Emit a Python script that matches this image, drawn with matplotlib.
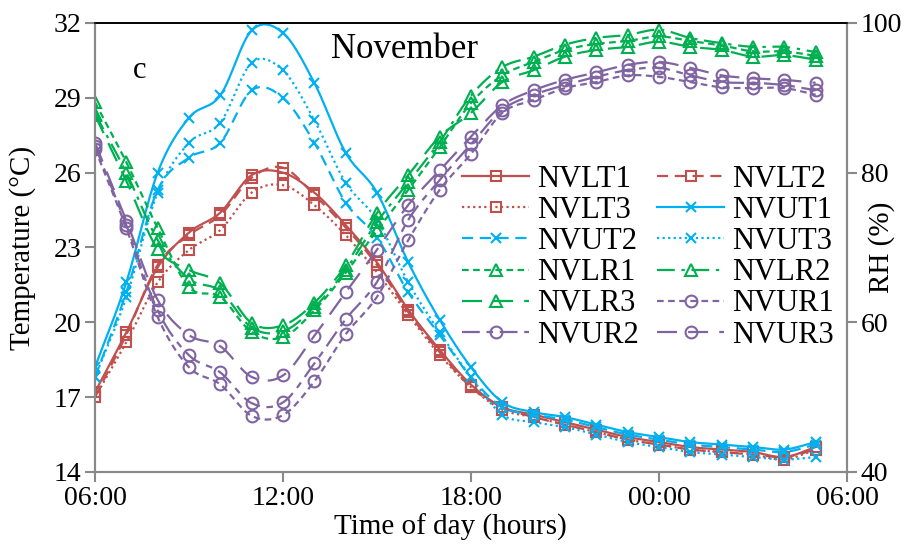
import numpy as np
import matplotlib
matplotlib.use("Agg")
import matplotlib.pyplot as plt

hours = list(range(6, 30))

# temperature (left axis, °C)
nvlt1 = [17.2, 19.6, 22.2, 23.6, 24.4, 25.9, 26.0, 25.2, 23.9, 22.4, 20.5, 18.9, 17.5, 16.6, 16.3, 16.0, 15.7, 15.4, 15.2, 15.0, 14.9, 14.8, 14.6, 15.0]
nvlt2 = [17.0, 19.5, 22.3, 23.5, 24.3, 25.8, 26.2, 25.1, 23.8, 22.3, 20.4, 18.8, 17.4, 16.6, 16.2, 15.9, 15.6, 15.3, 15.1, 14.9, 14.8, 14.7, 14.6, 14.9]
nvlt3 = [17.0, 19.2, 21.6, 22.9, 23.7, 25.2, 25.5, 24.7, 23.5, 22.0, 20.3, 18.7, 17.4, 16.5, 16.2, 15.9, 15.6, 15.3, 15.1, 14.9, 14.8, 14.7, 14.5, 14.9]
nvut1 = [18.2, 21.6, 26.0, 28.2, 29.1, 31.7, 31.6, 29.6, 26.8, 25.2, 22.4, 20.1, 18.2, 16.8, 16.4, 16.2, 15.9, 15.6, 15.4, 15.2, 15.1, 15.0, 14.9, 15.2]
nvut2 = [17.8, 21.2, 25.3, 26.6, 27.2, 29.3, 29.0, 27.2, 24.8, 23.4, 21.2, 19.5, 17.8, 16.6, 16.3, 16.1, 15.8, 15.5, 15.3, 15.1, 15.0, 14.9, 14.8, 15.1]
nvut3 = [17.8, 21.0, 25.2, 27.2, 28.0, 30.4, 30.1, 28.1, 25.6, 24.1, 21.6, 19.6, 17.8, 16.3, 16.0, 15.8, 15.5, 15.2, 15.0, 14.8, 14.7, 14.6, 14.5, 14.6]

# relative humidity (right axis, %)
nvlr1 = [89.4, 81.4, 72.6, 64.7, 63.4, 58.7, 58.0, 61.6, 66.6, 72.3, 77.7, 83.4, 89.3, 93.0, 94.8, 96.4, 97.2, 97.6, 98.2, 97.6, 97.0, 96.2, 96.2, 95.6]
nvlr2 = [87.9, 80.0, 71.0, 65.8, 64.2, 59.3, 58.8, 62.0, 67.0, 73.4, 78.7, 84.1, 90.3, 94.1, 95.5, 97.1, 98.0, 98.4, 99.1, 98.0, 97.3, 96.8, 96.8, 96.1]
nvlr3 = [87.7, 78.9, 69.8, 67.0, 65.2, 59.9, 59.6, 62.6, 67.6, 74.6, 79.7, 84.8, 88.0, 92.1, 93.7, 95.5, 96.4, 96.8, 97.5, 96.8, 96.4, 95.5, 95.7, 95.1]
nvur1 = [83.2, 72.6, 60.7, 54.0, 51.7, 47.5, 47.6, 52.1, 58.4, 63.4, 71.0, 77.7, 82.5, 88.0, 89.7, 91.3, 92.1, 93.0, 92.8, 92.1, 91.4, 91.3, 91.3, 90.4]
nvur2 = [83.6, 73.0, 61.6, 55.6, 53.3, 49.2, 49.3, 54.5, 60.4, 65.4, 73.7, 79.0, 83.8, 88.4, 90.4, 91.7, 92.8, 93.7, 94.0, 93.0, 92.1, 92.0, 91.7, 91.0]
nvur3 = [84.0, 73.6, 63.0, 58.3, 56.8, 52.7, 52.9, 58.2, 64.0, 69.7, 75.7, 80.3, 84.8, 89.0, 91.0, 92.4, 93.4, 94.4, 94.8, 94.0, 93.0, 92.6, 92.4, 92.0]

red = "#C0504D"
blue = "#00B0F0"
green = "#00B050"
purple = "#8064A2"

plt.rcParams["font.family"] = ["Liberation Serif", "DejaVu Serif"]


def smooth(x, y, n=16):
    # catmull-rom through the hourly points, like excel's smoothed line
    x = np.asarray(x, float)
    y = np.asarray(y, float)
    px = np.concatenate([[2 * x[0] - x[1]], x, [2 * x[-1] - x[-2]]])
    py = np.concatenate([[2 * y[0] - y[1]], y, [2 * y[-1] - y[-2]]])
    xs, ys = [], []
    t = np.linspace(0, 1, n, endpoint=False)
    for i in range(1, len(px) - 2):
        for arr, out in ((px, xs), (py, ys)):
            p0, p1, p2, p3 = arr[i - 1], arr[i], arr[i + 1], arr[i + 2]
            out.extend(0.5 * (2 * p1 + (-p0 + p2) * t + (2 * p0 - 5 * p1 + 4 * p2 - p3) * t ** 2
                              + (-p0 + 3 * p1 - 3 * p2 + p3) * t ** 3))
    xs.append(x[-1])
    ys.append(y[-1])
    return xs, ys


def draw(ax, y, label, color, dashes, marker, ms=7):
    sx, sy = smooth(hours, y)
    kw = dict(color=color, lw=1.6)
    if dashes is None:
        kw["linestyle"] = "-"
    else:
        kw["dashes"] = dashes
    ax.plot(sx, sy, **kw)
    ax.plot(hours, y, linestyle="none", marker=marker, ms=ms, mfc="none",
            mec=color, mew=1.5)
    # proxy for the legend
    return ax.plot([], [], marker=marker, ms=ms, mfc="none", mec=color, mew=1.5,
                   label=label, **kw)[0]


fig = plt.figure(figsize=(9.15, 5.51), dpi=100)
ax = fig.add_axes([0.1038, 0.1434, 0.8219, 0.8149])
ax2 = ax.twinx()

h = {}
h["NVLT1"] = draw(ax, nvlt1, "NVLT1", red, None, "s")
h["NVLT2"] = draw(ax, nvlt2, "NVLT2", red, (5, 3), "s")
h["NVLT3"] = draw(ax, nvlt3, "NVLT3", red, (1, 1.5), "s")
h["NVUT1"] = draw(ax, nvut1, "NVUT1", blue, None, "x")
h["NVUT2"] = draw(ax, nvut2, "NVUT2", blue, (5, 3), "x")
h["NVUT3"] = draw(ax, nvut3, "NVUT3", blue, (1, 1.5), "x")
h["NVLR1"] = draw(ax2, nvlr1, "NVLR1", green, (3, 2), "^", 8)
h["NVLR2"] = draw(ax2, nvlr2, "NVLR2", green, (8, 3, 1.5, 3), "^", 8)
h["NVLR3"] = draw(ax2, nvlr3, "NVLR3", green, (9, 5), "^", 8)
h["NVUR1"] = draw(ax2, nvur1, "NVUR1", purple, (3, 2), "o", 8.5)
h["NVUR2"] = draw(ax2, nvur2, "NVUR2", purple, (8, 3, 3, 3), "o", 8.5)
h["NVUR3"] = draw(ax2, nvur3, "NVUR3", purple, (9, 5), "o", 8.5)

ax.set_xlim(6, 30)
ax.set_ylim(14, 32)
ax2.set_ylim(40, 100)
ax.set_xticks([6, 12, 18, 24, 30])
ax.set_xticklabels(["06:00", "12:00", "18:00", "00:00", "06:00"])
ax.set_yticks(np.arange(14, 33, 3))
ax2.set_yticks([40, 60, 80, 100])

gray = "#898989"
for a in (ax, ax2):
    for side in ("left", "right", "bottom"):
        a.spines[side].set_color(gray)
        a.spines[side].set_linewidth(1.5)
    a.spines["top"].set_color("black")
    a.spines["top"].set_linewidth(1.2)
    a.tick_params(direction="out", length=7, width=1.5, color=gray,
                  labelsize=20, labelcolor="black", pad=3)

ax.set_xlabel("Time of day (hours)", fontsize=21)
ax.xaxis.set_label_coords(0.473, -0.094)
ax.set_ylabel("Temperature (°C)", fontsize=21)
ax.yaxis.set_label_coords(-0.078, 0.5)
ax2.set_ylabel("RH (%)", fontsize=21)
ax2.yaxis.set_label_coords(1.028, 0.5)

ax.text(0.06, 0.895, "c", transform=ax.transAxes, fontsize=22, ha="center", va="center")
ax.text(0.412, 0.94, "November", transform=ax.transAxes, fontsize=25, ha="center", va="center")

# excel fills the legend row by row
order = ["NVLT1", "NVLT3", "NVUT2", "NVLR1", "NVLR3", "NVUR2",
         "NVLT2", "NVUT1", "NVUT3", "NVLR2", "NVUR1", "NVUR3"]
ax2.legend(handles=[h[k] for k in order], ncol=2, loc="upper left",
           bbox_to_anchor=(0.488, 0.684), frameon=False, fontsize=22,
           handlelength=2.2, handletextpad=0.26, columnspacing=0.6,
           labelspacing=0.07, borderpad=0.0, borderaxespad=0.0)

fig.savefig("out.png", dpi=100)
